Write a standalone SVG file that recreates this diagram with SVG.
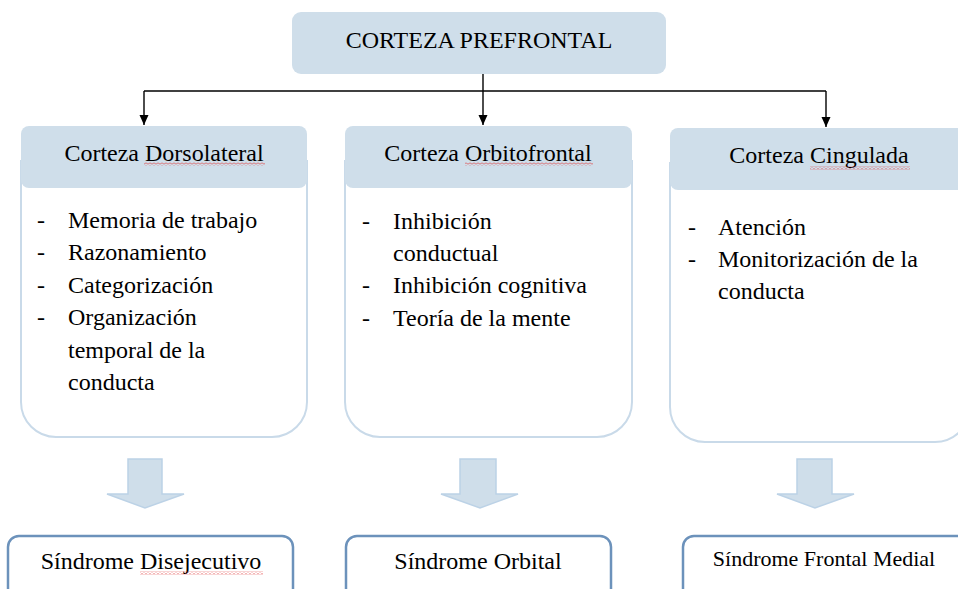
<svg xmlns="http://www.w3.org/2000/svg" width="958" height="589" viewBox="0 0 958 589">
  <style>
    text { font-family: "Liberation Serif", "Times New Roman", serif; fill: #000; }
    .title { font-size: 24px; text-anchor: middle; }
    .item { font-size: 24px; }
    .hdr { fill: #cfdeea; }
    .body { fill: #fff; stroke: #c9dae9; stroke-width: 2; }
    .conn { fill: none; stroke: #000; stroke-width: 1.4; }
    .block { fill: #cfdeea; stroke: #bcd2e6; stroke-width: 1.5; }
    .syn { fill: #fff; stroke: #6c92bb; stroke-width: 2.5; }
  </style>
  <defs>
    <marker id="ah" markerUnits="userSpaceOnUse" markerWidth="10" markerHeight="10" refX="10" refY="4.5" orient="auto">
      <path d="M0,0 L10,4.5 L0,9 z" fill="#000"/>
    </marker>
    <pattern id="wavy" patternUnits="userSpaceOnUse" width="4" height="3">
      <polyline points="0,2.5 2,0.5 4,2.5" fill="none" stroke="#e03030" stroke-width="0.8"/>
    </pattern>
  </defs>

  <g id="connectors">
    <path class="conn" d="M483,74 V125" marker-end="url(#ah)"/>
    <path class="conn" d="M144,91 H826"/>
    <path class="conn" d="M144,91 V125" marker-end="url(#ah)"/>
    <path class="conn" d="M826,91 V127" marker-end="url(#ah)"/>
    <path class="block" d="M128,459 H162 V494 H184 L145,508 L107,494 H128 Z"/>
    <path class="block" d="M460,459 H496 V494 H518 L480,508 L441,494 H460 Z"/>
    <path class="block" d="M797,459 H832 V494 H854 L815,508 L777,494 H797 Z"/>
  </g>

  <g id="prefrontal">
    <rect class="hdr" x="292" y="12" width="374" height="62" rx="9"/>
    <text class="title" x="479" y="48">CORTEZA PREFRONTAL</text>
  </g>

  <g id="dorsolateral">
    <path class="body" d="M21,160 V402 A35,35 0 0 0 56,437 H272 A35,35 0 0 0 307,402 V160"/>
    <rect class="hdr" x="21" y="126" width="286" height="62" rx="8"/>
    <text class="title" x="164" y="161">Corteza Dorsolateral</text>
    <rect x="144" y="162.5" width="121" height="3" fill="url(#wavy)"/>
    <g class="item">
      <text x="37" y="228">-</text><text x="68" y="228">Memoria de trabajo</text>
      <text x="37" y="260">-</text><text x="68" y="260">Razonamiento</text>
      <text x="37" y="293">-</text><text x="68" y="293">Categorización</text>
      <text x="37" y="325">-</text><text x="68" y="325">Organización</text>
      <text x="68" y="358">temporal de la</text>
      <text x="68" y="390">conducta</text>
    </g>
  </g>

  <g id="orbitofrontal">
    <path class="body" d="M345,160 V402 A35,35 0 0 0 380,437 H597 A35,35 0 0 0 632,402 V160"/>
    <rect class="hdr" x="345" y="126" width="287" height="62" rx="8"/>
    <text class="title" x="488" y="161">Corteza Orbitofrontal</text>
    <rect x="465" y="162.5" width="128" height="3" fill="url(#wavy)"/>
    <g class="item">
      <text x="362" y="229">-</text><text x="393" y="229">Inhibición</text>
      <text x="393" y="261">conductual</text>
      <text x="362" y="293">-</text><text x="393" y="293">Inhibición cognitiva</text>
      <text x="362" y="326">-</text><text x="393" y="326">Teoría de la mente</text>
    </g>
  </g>

  <g id="cingulada">
    <path class="body" d="M670,162 V407 A35,35 0 0 0 705,442 H935 A35,35 0 0 0 970,407 V162"/>
    <rect class="hdr" x="670" y="128" width="300" height="62" rx="8"/>
    <text class="title" x="819" y="163">Corteza Cingulada</text>
    <rect x="810" y="166.5" width="100" height="3" fill="url(#wavy)"/>
    <g class="item">
      <text x="688" y="235">-</text><text x="718" y="235">Atención</text>
      <text x="688" y="267">-</text><text x="718" y="267">Monitorización de la</text>
      <text x="718" y="299">conducta</text>
    </g>
  </g>

  <g id="disejecutivo">
    <rect class="syn" x="8" y="536" width="285" height="70" rx="11"/>
    <text class="title" x="151" y="569">Síndrome Disejecutivo</text>
    <rect x="140" y="571.5" width="123" height="3" fill="url(#wavy)"/>
  </g>

  <g id="orbital">
    <rect class="syn" x="346" y="536" width="265" height="70" rx="11"/>
    <text class="title" x="478" y="569">Síndrome Orbital</text>
  </g>

  <g id="frontal-medial">
    <rect class="syn" x="683" y="536" width="300" height="70" rx="11"/>
    <text class="title" x="824" y="566" style="font-size:22px">Síndrome Frontal Medial</text>
  </g>
</svg>
